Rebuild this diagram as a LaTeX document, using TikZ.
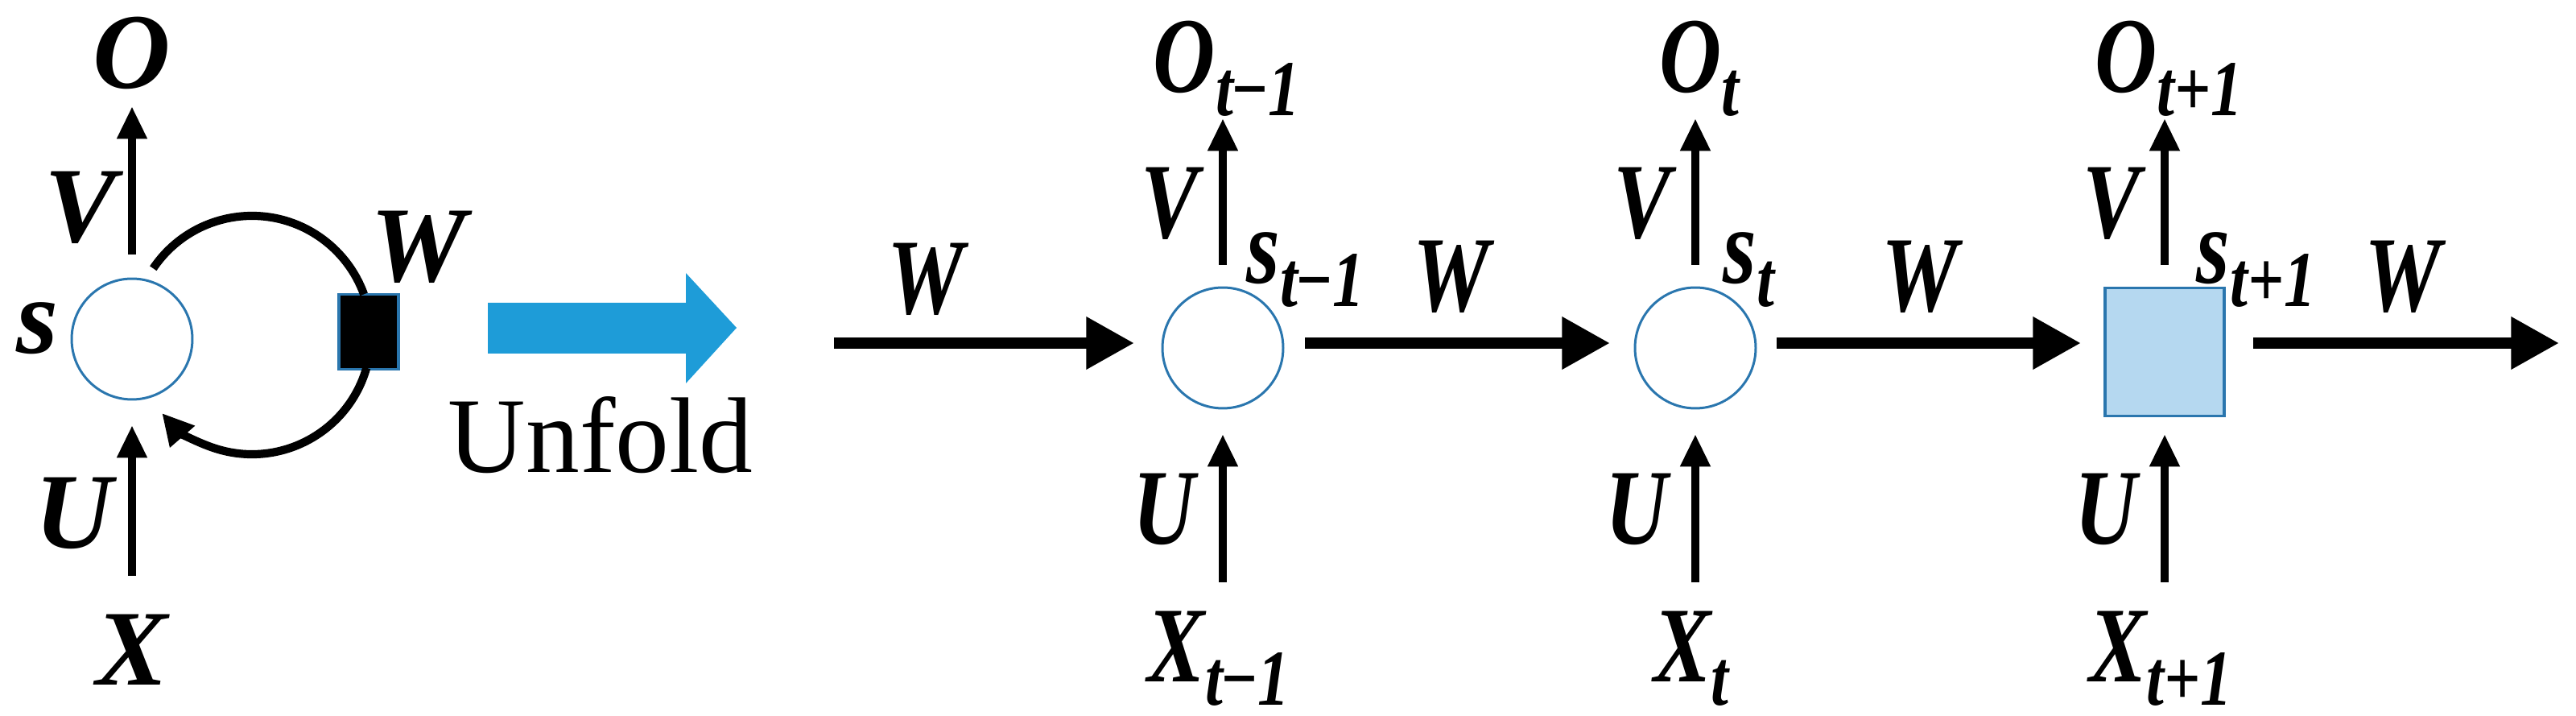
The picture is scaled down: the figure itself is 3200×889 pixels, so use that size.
\documentclass[tikz,border=0pt]{standalone}
\usepackage{fontspec}
\setmainfont{Liberation Serif}
\usetikzlibrary{arrows.meta}
\definecolor{cellblue}{HTML}{2A76AE}
\definecolor{cellfill}{HTML}{B5D8F0}
\definecolor{bigblue}{HTML}{1E9CD8}
\newcommand{\lbl}[1]{\fontsize{38}{44}\selectfont\bfseries\itshape #1}
\newcommand{\nl}[2]{\scalebox{0.8}[1]{\fontsize{38}{44}\selectfont\bfseries\itshape #1\raisebox{-0.22em}{\fontsize{28}{32}\selectfont #2}}}
\begin{document}
\begin{tikzpicture}[x=0.1mm,y=-0.1mm,
  cell/.style={circle,draw=cellblue,line width=0.85pt,minimum size=150*0.2845pt,inner sep=0pt},
  varr/.style={line width=2.9pt,-{Triangle[length=11.5pt,width=10pt]}},
  harr/.style={line width=4pt,-{Triangle[length=17pt,width=17.6pt]}},
  loop/.style={line width=2.9pt},
  txt/.style={inner sep=0pt,anchor=center}]
\useasboundingbox (0,0) rectangle (3200,889);
% ---------- folded ----------
\node[cell] (s) at (164,421) {};
\node[draw=cellblue,fill=black,line width=1pt,minimum width=74*0.2845pt,minimum height=93*0.2845pt,inner sep=0pt] (wsq) at (458,412) {};
\node[txt] (O) at (164,66) {\lbl{O}};
\node[txt] (X) at (164,807) {\lbl{X}};
\node[txt] (Vl) at (100,258) {\lbl{V}};
\node[txt] (Ul) at (92,637) {\lbl{U}};
\node[txt] (sl) at (46,408) {\lbl{s}};
\node[txt] (Wl) at (520,307) {\lbl{W}};
\coordinate (vs) at (164,316); \coordinate (ve) at (164,132);
\coordinate (us) at (164,715); \coordinate (ue) at (164,528);
\draw[varr] (vs) -- (ve);
\draw[varr] (us) -- (ue);
\draw[loop] (313,416) ++(-146:148) arc[start angle=-146,end angle=-20,radius=148];
\draw[loop,-{Triangle[length=11pt,width=11pt]}] (313,416) ++(16:148) arc[start angle=16,end angle=139,radius=148];
% big arrow
\fill[bigblue] (606,376) -- (852,376) -- (852,339) -- (915,407) -- (852,476) -- (852,439) -- (606,439) -- cycle;
\node[txt] (unf) at (746,540) {\fontsize{38}{44}\selectfont Unfold};
% ---------- unfolded ----------
\node[cell] (c1) at (1519,432) {};
\node[cell] (c2) at (2106,432) {};
\node[draw=cellblue,fill=cellfill,line width=1.1pt,minimum width=148*0.2845pt,minimum height=159*0.2845pt,inner sep=0pt] (c3) at (2689,437) {};
\foreach \n/\x/\sub/\sx in {1/1519/{t\kern-0.05em−1}/1548, 2/2106/t/2140, 3/2689/{t+1}/2728}{
  \node[txt] (O\n) at (\x+5,85) {\nl{O}{\sub}};
  \node[txt] (X\n) at (\x-5,818) {\nl{X}{\sub}};
  \node[txt] (V\n) at (\x-66,266) {\nl{V}{}};
  \node[txt] (U\n) at (\x-73,646) {\nl{U}{}};
  \node[txt,anchor=west] (S\n) at (\sx,335) {\nl{s}{\sub}};
  \coordinate (a\n) at (\x,329); \coordinate (b\n) at (\x,147);
  \coordinate (d\n) at (\x,723); \coordinate (e\n) at (\x,539);
  \draw[varr] (a\n) -- (b\n);
  \draw[varr] (d\n) -- (e\n);
}
\coordinate (h0) at (1036,426); \coordinate (h1) at (1409,426);
\coordinate (h2) at (1621,426); \coordinate (h3) at (2000,426);
\coordinate (h4) at (2207,426); \coordinate (h5) at (2585,426);
\coordinate (h6) at (2799,426); \coordinate (h7) at (3179,426);
\draw[harr] (h0) -- (h1);
\draw[harr] (h2) -- (h3);
\draw[harr] (h4) -- (h5);
\draw[harr] (h6) -- (h7);
\node[txt] (W0) at (1150,360) {\nl{W}{}};
\node[txt] (W1) at (1803,357) {\nl{W}{}};
\node[txt] (W2) at (2385,357) {\nl{W}{}};
\node[txt] (W3) at (2985,357) {\nl{W}{}};
\end{tikzpicture}
\end{document}
